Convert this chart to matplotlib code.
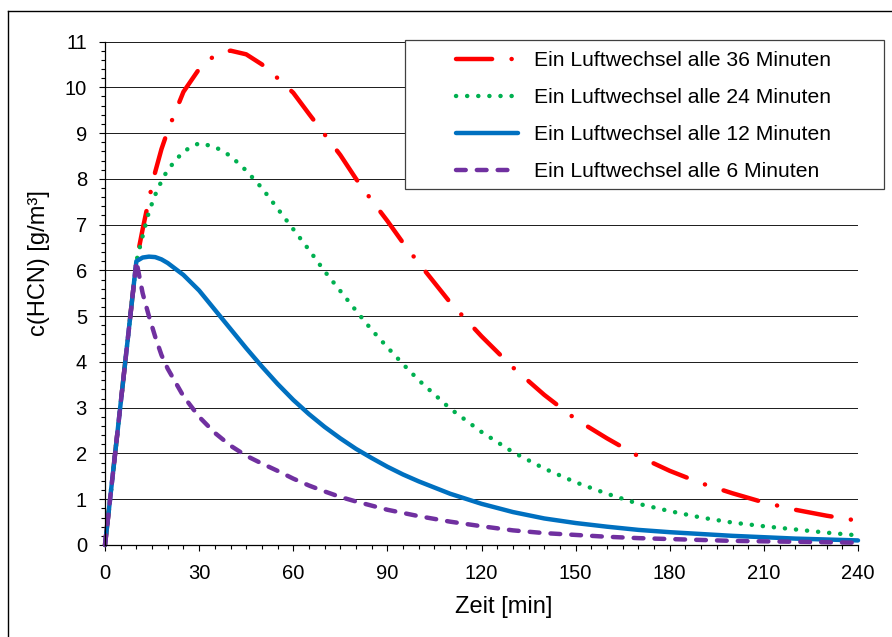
import matplotlib
matplotlib.use("Agg")
import matplotlib.pyplot as plt
import matplotlib.ticker as ticker
from matplotlib.lines import Line2D
from matplotlib.patches import Rectangle

t_36 = [0, 10, 12, 14, 16, 18, 20, 25, 30, 35, 40, 45, 50, 55, 60, 65, 70, 75, 80, 85, 90, 95, 100,
        110, 120, 130, 140, 150, 160, 170, 180, 190, 200, 210, 220, 230, 240]
c_36 = [0, 6.2, 6.9, 7.55, 8.15, 8.65, 9.05, 9.9, 10.4, 10.7, 10.8, 10.72, 10.5, 10.2, 9.88, 9.42,
        8.97, 8.52, 8.0, 7.53, 7.08, 6.6, 6.16, 5.3, 4.56, 3.88, 3.28, 2.75, 2.33, 1.94, 1.62,
        1.35, 1.13, 0.93, 0.77, 0.64, 0.53]

t_24 = t_36
c_24 = [0, 6.2, 6.75, 7.28, 7.65, 7.95, 8.2, 8.6, 8.78, 8.7, 8.5, 8.18, 7.8, 7.35, 6.9, 6.45,
        5.98, 5.55, 5.12, 4.7, 4.32, 3.95, 3.6, 2.98, 2.47, 2.03, 1.67, 1.37, 1.12, 0.9, 0.74,
        0.6, 0.49, 0.41, 0.34, 0.27, 0.21]

t_12 = t_36
c_12 = [0, 6.2, 6.28, 6.3, 6.29, 6.24, 6.16, 5.9, 5.56, 5.14, 4.72, 4.3, 3.9, 3.52, 3.17, 2.86,
        2.58, 2.33, 2.1, 1.9, 1.71, 1.54, 1.39, 1.12, 0.9, 0.72, 0.58, 0.48, 0.4, 0.33, 0.28,
        0.24, 0.2, 0.17, 0.14, 0.12, 0.1]

t_6 = [0, 10, 11, 12, 14, 16, 18, 20, 25, 30, 35, 40, 45, 50, 55, 60, 65, 70, 75, 80, 85, 90, 95,
       100, 110, 120, 130, 140, 150, 160, 170, 180, 190, 200, 210, 220, 230, 240]
c_6 = [0, 6.2, 5.85, 5.5, 5.0, 4.55, 4.15, 3.85, 3.25, 2.8, 2.45, 2.17, 1.95, 1.78, 1.62, 1.45,
       1.3, 1.17, 1.05, 0.95, 0.86, 0.77, 0.7, 0.63, 0.51, 0.41, 0.32, 0.26, 0.22, 0.18, 0.15,
       0.13, 0.11, 0.09, 0.08, 0.07, 0.06, 0.05]

labels = ["Ein Luftwechsel alle 36 Minuten", "Ein Luftwechsel alle 24 Minuten",
          "Ein Luftwechsel alle 12 Minuten", "Ein Luftwechsel alle 6 Minuten"]


def main():
    plt.rcParams['font.family'] = ['Liberation Sans', 'DejaVu Sans']
    plt.rcParams['lines.scale_dashes'] = False

    W, H = 892, 637
    fig = plt.figure(figsize=(W / 100, H / 100), dpi=100)
    ax = fig.add_axes([105 / W, 1 - 545 / H, 753 / W, 503.5 / H])

    lw = 3.2
    common = dict(linewidth=lw, solid_capstyle='round', solid_joinstyle='round',
                  dash_capstyle='round', dash_joinstyle='round', clip_on=False)
    l1, = ax.plot(t_36, c_36, color='#FF0000', dashes=(26, 14, 0.1, 14), label=labels[0], **common)
    l2, = ax.plot(t_24, c_24, color='#00B050', dashes=(0.1, 7.9), label=labels[1], **common)
    l3, = ax.plot(t_12, c_12, color='#0070C0', label=labels[2], **common)
    l4, = ax.plot(t_6, c_6, color='#7030A0', dashes=(7, 8), label=labels[3], **common)

    ax.set_xlim(0, 240)
    ax.set_ylim(0, 11)
    ax.xaxis.set_major_locator(ticker.MultipleLocator(30))
    ax.xaxis.set_minor_locator(ticker.MultipleLocator(5))
    ax.yaxis.set_major_locator(ticker.MultipleLocator(1))
    ax.yaxis.set_minor_locator(ticker.MultipleLocator(0.2))

    ax.tick_params(axis='both', which='major', labelsize=14.5, length=4, width=0.8, direction='out')
    ax.tick_params(axis='both', which='minor', length=3, width=0.8, direction='out')
    ax.tick_params(axis='y', which='major', pad=9)
    ax.tick_params(axis='x', which='major', pad=10)

    ax.grid(True, axis='y', which='major', color='#1a1a1a', linewidth=0.7)
    ax.set_axisbelow(True)
    for side in ['top', 'right']:
        ax.spines[side].set_visible(False)
    for side in ['left', 'bottom']:
        ax.spines[side].set_linewidth(0.9)
        ax.spines[side].set_zorder(3)

    ax.set_xlabel('Zeit [min]', fontsize=17)
    ax.set_ylabel('c(HCN) [g/m³]', fontsize=17)
    ax.xaxis.set_label_coords((503.5 - 105) / 753, -(596 - 545) / 503.5)
    ax.yaxis.set_label_coords((50 - 105) / 753, (545 - 263) / 503.5)

    # Legendenrahmen (breiter als der Inhalt, wie im Original)
    frame = Rectangle((405 / W, 1 - 189 / H), (884 - 405) / W, (189 - 40) / H,
                      transform=fig.transFigure, facecolor='white', edgecolor='#404040',
                      linewidth=0.9, zorder=5)
    fig.patches.append(frame)
    leg = fig.legend(handles=[l1, l2, l3, l4], loc='upper left',
                     bbox_to_anchor=(456 / W, 1 - 51 / H), bbox_transform=fig.transFigure,
                     frameon=False, fontsize=15.2, handlelength=2.95, handletextpad=0.75,
                     borderpad=0, borderaxespad=0, labelspacing=0.86)
    leg.set_zorder(6)

    # Rahmen um das Diagramm (nur oben und links sichtbar)
    fig.add_artist(Line2D([7.5 / W, 7.5 / W], [0, 1 - 10.5 / H], transform=fig.transFigure,
                          color='black', linewidth=1))
    fig.add_artist(Line2D([7.5 / W, 1], [1 - 10.5 / H, 1 - 10.5 / H], transform=fig.transFigure,
                          color='black', linewidth=1))

    fig.savefig('out.png', dpi=100)
    plt.close(fig)


if __name__ == "__main__":
    main()
